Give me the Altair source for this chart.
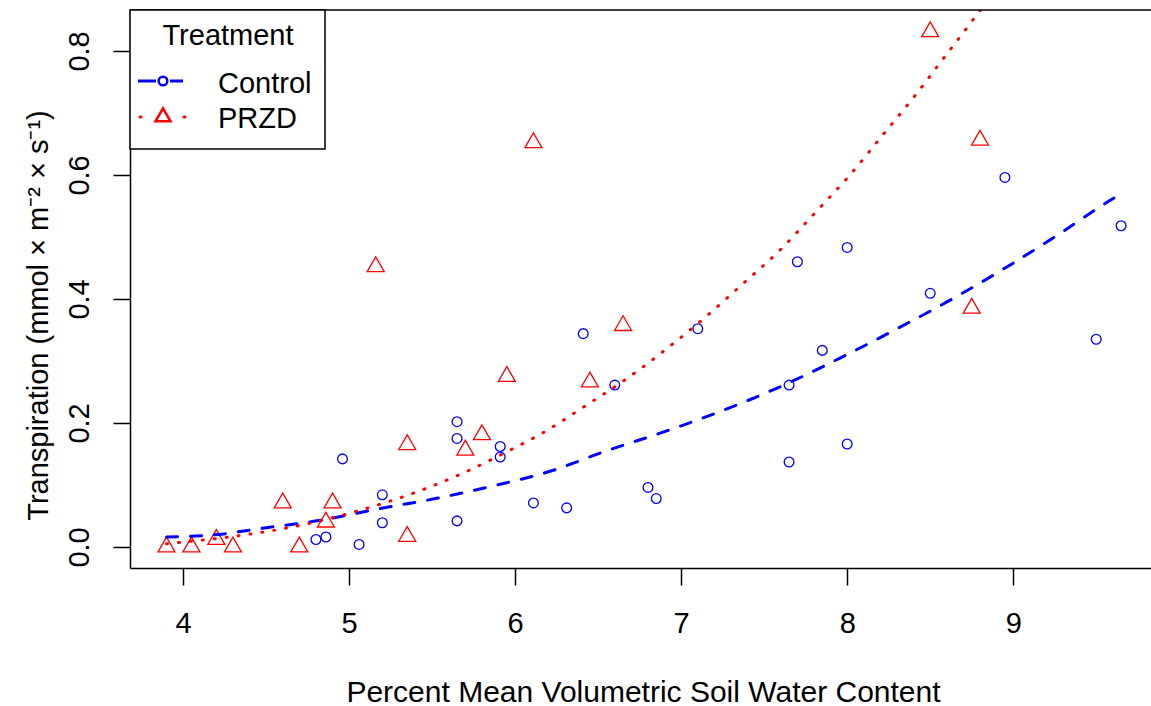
import altair as alt
import pandas as pd

# Transpiration vs. soil water content, by treatment
control_x = [4.80, 4.86, 4.96, 5.06, 5.20, 5.20, 5.65, 5.65, 5.65, 5.91,
             5.91, 6.11, 6.31, 6.41, 6.60, 6.80, 6.85, 7.10, 7.65, 7.65,
             7.70, 7.85, 8.00, 8.00, 8.50, 8.95, 9.50, 9.65]
control_y = [0.012, 0.016, 0.142, 0.004, 0.084, 0.039, 0.202, 0.175, 0.042, 0.162,
             0.145, 0.071, 0.063, 0.344, 0.261, 0.096, 0.078, 0.352, 0.261, 0.137,
             0.460, 0.317, 0.483, 0.166, 0.409, 0.596, 0.335, 0.518]

przd_x = [3.90, 4.05, 4.20, 4.30, 4.60, 4.70, 4.86, 4.90, 5.16, 5.35,
          5.35, 5.70, 5.80, 5.95, 6.11, 6.45, 6.65, 8.50, 8.75, 8.80]
przd_y = [0.000, 0.000, 0.012, 0.000, 0.071, 0.000, 0.040, 0.071, 0.452, 0.165,
          0.017, 0.156, 0.181, 0.275, 0.652, 0.266, 0.357, 0.831, 0.385, 0.656]

# fitted curves
control_fit_x = [3.90, 4.17, 4.50, 4.83, 5.17, 5.52, 5.86, 6.21, 6.55, 6.90,
                 7.25, 7.61, 7.96, 8.28, 8.62, 8.94, 9.25, 9.56, 9.65]
control_fit_y = [0.016, 0.019, 0.031, 0.043, 0.061, 0.078, 0.098, 0.122, 0.155, 0.186,
                 0.220, 0.260, 0.305, 0.349, 0.398, 0.448, 0.500, 0.555, 0.570]

przd_fit_x = [3.90, 4.01, 4.36, 4.69, 5.05, 5.39, 5.66, 5.99, 6.16, 6.42, 6.67,
              6.90, 7.13, 7.37, 7.60, 7.81, 8.02, 8.21, 8.40, 8.58, 8.76, 8.84]
przd_fit_y = [0.005, 0.008, 0.019, 0.034, 0.058, 0.087, 0.116, 0.159, 0.183, 0.227, 0.271,
              0.317, 0.367, 0.424, 0.480, 0.540, 0.601, 0.663, 0.725, 0.788, 0.851, 0.880]

treatments = ["Control", "PRZD"]
BLUE = "#0000FF"
RED = "#FF0000"
FONT = "Liberation Sans"
# triangle with its centroid on the data point
TRIANGLE = "M0,-1L0.866,0.5L-0.866,0.5Z"

W, H = 1021, 558

points = pd.DataFrame({
    "swc": control_x + przd_x,
    "transp": control_y + przd_y,
    "Treatment": ["Control"] * len(control_x) + ["PRZD"] * len(przd_x),
})
control_fit = pd.DataFrame({"swc": control_fit_x, "transp": control_fit_y})
przd_fit = pd.DataFrame({"swc": przd_fit_x, "transp": przd_fit_y})

x_scale = alt.Scale(domain=[3.68, 9.83], nice=False, zero=False)
y_scale = alt.Scale(domain=[-0.034, 0.866], nice=False, zero=False)

x_axis = alt.Axis(
    values=[4, 5, 6, 7, 8, 9], format="d", grid=False,
    title="Percent Mean Volumetric Soil Water Content",
    tickSize=17, tickWidth=1.5, tickColor="black",
    domainColor="black", domainWidth=1.5,
    labelFont=FONT, labelFontSize=29, labelColor="black",
    labelBaseline="alphabetic", labelPadding=47,
    labelFlush=False, labelOverlap=False,
    titleFont=FONT, titleFontSize=30, titleFontWeight="normal", titleColor="black",
    titleBaseline="alphabetic", titleAlign="center", titleX=513, titleY=133,
)
y_axis = alt.Axis(
    values=[0.0, 0.2, 0.4, 0.6, 0.8], format=".1f", grid=False,
    title="Transpiration  (mmol × m⁻² × s⁻¹)",
    tickSize=17, tickWidth=1.5, tickColor="black",
    domainColor="black", domainWidth=1.5,
    labelFont=FONT, labelFontSize=29, labelColor="black",
    labelAngle=270, labelAlign="center", labelBaseline="alphabetic", labelPadding=25,
    labelFlush=False, labelOverlap=False,
    titleFont=FONT, titleFontSize=29, titleFontWeight="normal", titleColor="black",
    titleAngle=270, titleBaseline="alphabetic", titleAlign="center",
    titleX=-83, titleY=305,
)

scatter = alt.Chart(points).mark_point(filled=False, strokeWidth=1.3, opacity=1).encode(
    x=alt.X("swc:Q", scale=x_scale, axis=x_axis),
    y=alt.Y("transp:Q", scale=y_scale, axis=y_axis),
    color=alt.Color("Treatment:N", scale=alt.Scale(domain=treatments, range=[BLUE, RED]), legend=None),
    shape=alt.Shape("Treatment:N", scale=alt.Scale(domain=treatments, range=["circle", TRIANGLE]), legend=None),
    size=alt.Size("Treatment:N", scale=alt.Scale(domain=treatments, range=[95, 385]), legend=None),
)

control_line = alt.Chart(control_fit).mark_line(
    color=BLUE, strokeWidth=3, strokeDash=[11, 13], strokeCap="round",
    interpolate="monotone", clip=True,
).encode(x=alt.X("swc:Q", scale=x_scale), y=alt.Y("transp:Q", scale=y_scale))

przd_line = alt.Chart(przd_fit).mark_line(
    color=RED, strokeWidth=3, strokeDash=[1, 11], strokeCap="round",
    interpolate="monotone", clip=True,
).encode(x=alt.X("swc:Q", scale=x_scale), y=alt.Y("transp:Q", scale=y_scale))

# top edge of the plot frame
one = pd.DataFrame({"k": [0]})
frame_top = alt.Chart(one).mark_rule(color="black", strokeWidth=1.5).encode(
    x=alt.value(0), x2=alt.value(W), y=alt.value(0)
)

# legend box in the top-left corner
legend_box = alt.Chart(one).mark_rect(fill="white", stroke="black", strokeWidth=1.5).encode(
    x=alt.value(0), x2=alt.value(195), y=alt.value(0), y2=alt.value(139)
)
legend_title = alt.Chart(one).mark_text(
    text="Treatment", font=FONT, fontSize=29, color="black", align="center", baseline="alphabetic"
).encode(x=alt.value(98), y=alt.value(35))
legend_control_text = alt.Chart(one).mark_text(
    text="Control", font=FONT, fontSize=29, color="black", align="left", baseline="alphabetic"
).encode(x=alt.value(88), y=alt.value(83))
legend_przd_text = alt.Chart(one).mark_text(
    text="PRZD", font=FONT, fontSize=29, color="black", align="left", baseline="alphabetic"
).encode(x=alt.value(88), y=alt.value(118))
legend_control_line = alt.Chart(one).mark_rule(
    color=BLUE, strokeWidth=3, strokeDash=[18, 14]
).encode(x=alt.value(8), x2=alt.value(53), y=alt.value(71))
legend_control_pt = alt.Chart(one).mark_point(
    shape="circle", size=75, filled=False, color=BLUE, strokeWidth=2.5, opacity=1
).encode(x=alt.value(33), y=alt.value(71))
legend_przd_line = alt.Chart(one).mark_rule(
    color=RED, strokeWidth=3, strokeDash=[1, 43], strokeCap="round"
).encode(x=alt.value(10), x2=alt.value(55), y=alt.value(107))
legend_przd_pt = alt.Chart(one).mark_point(
    shape=TRIANGLE, size=300, filled=False, color=RED, strokeWidth=2.5, opacity=1
).encode(x=alt.value(33), y=alt.value(107))

chart = alt.layer(
    scatter, control_line, przd_line, frame_top,
    legend_box, legend_title, legend_control_text, legend_przd_text,
    legend_control_line, legend_control_pt, legend_przd_line, legend_przd_pt,
).properties(
    width=W, height=H,
    autosize=alt.AutoSizeParams(type="none"),
    padding={"left": 130, "top": 10, "right": 0, "bottom": 138},
    background="white",
).configure_view(strokeWidth=0)

chart.save("out.html", embed_options={"renderer": "svg", "actions": False})
